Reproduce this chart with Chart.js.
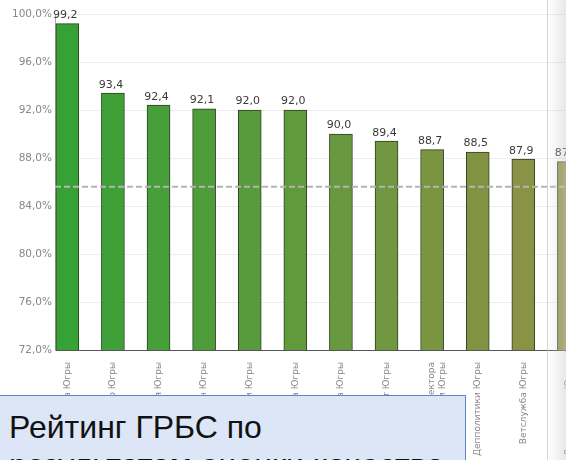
<!DOCTYPE html>
<html>
<head>
<meta charset="utf-8">
<script src="https://cdn.jsdelivr.net/npm/chart.js@4"></script>
<style>
  html, body { margin: 0; padding: 0; background: #fff; overflow: hidden; }
  #wrap { position: relative; width: 566px; height: 460px; overflow: hidden; }
  #box { position: absolute; left: 0; top: 0; width: 620px; height: 460px; }
  #shade { position: absolute; left: 547px; top: 0; width: 19px; height: 460px;
    border-left: 1px solid rgba(180,180,180,0.3);
    background: linear-gradient(to right, rgba(250,250,250,0.05), rgba(205,205,205,0.5)); }
  #note { position: absolute; left: -1px; top: 395px; width: 467px; height: 90px;
    background: #dce6f7; border: 1px solid #5a86c8; box-sizing: border-box;
    font-family: "Liberation Sans", Arial, sans-serif; font-size: 32px; line-height: 38px;
    color: #111; padding: 12px 0 0 9px; white-space: nowrap; }
</style>
</head>
<body>
<div id="wrap">
  <div id="box"><canvas id="ratingChart" width="620" height="460"></canvas></div>
  <div id="shade"></div>
  <div id="note">Рейтинг ГРБС по<br>результатам оценки качества</div>
</div>
<script>
const names = [
  "Дума Югры",
  "Губернатор Югры",
  "Избирательная комиссия Югры",
  "Депфин Югры",
  "Депэкономики Югры",
  "Счетная палата Югры",
  "Депспорта Югры",
  "Дептранспорт Югры",
  ["Депразвития аграрного сектора", "Депнедропользования и Югры"],
  "Депполитики Югры",
  "Ветслужба Югры",
  "Депкультуры Югры"
];
const scores = [99.2, 93.4, 92.4, 92.1, 92.0, 92.0, 90.0, 89.4, 88.7, 88.5, 87.9, 87.7];
const average = 85.6;
const yTicks = [72, 76, 80, 84, 88, 92, 96, 100];

const xMin = -0.27;
const xMax = 12.12;

// left colour -> right colour across the bars
function barColor(i, shade) {
  const t = i / (scores.length - 1);
  const from = shade ? [20, 126, 20] : [54, 162, 54];
  const to = shade ? [108, 106, 38] : [146, 144, 70];
  const c = from.map((v, k) => Math.round(v + (to[k] - v) * t));
  return "rgb(" + c.join(",") + ")";
}

const valueLabels = {
  id: "valueLabels",
  afterDatasetsDraw(chart) {
    const ctx = chart.ctx;
    const meta = chart.getDatasetMeta(0);
    ctx.save();
    ctx.font = "11px 'DejaVu Sans', Verdana, sans-serif";
    ctx.fillStyle = "#3a3a3a";
    ctx.textAlign = "center";
    ctx.textBaseline = "bottom";
    meta.data.forEach((bar, i) => {
      ctx.fillText(scores[i].toFixed(1).replace(".", ","), bar.x - 2, bar.y - 3);
    });
    ctx.restore();
  }
};

const ctx = document.getElementById("ratingChart").getContext("2d");
new Chart(ctx, {
  type: "bar",
  data: {
    datasets: [{
      type: "bar",
      data: scores.map((v, i) => ({ x: i, y: v })),
      backgroundColor: (c) => {
        const el = c.element;
        if (!el || !el.x) return barColor(c.dataIndex, false);
        const g = c.chart.ctx.createLinearGradient(el.x - 12, 0, el.x + 12, 0);
        g.addColorStop(0, barColor(c.dataIndex, false));
        g.addColorStop(1, barColor(c.dataIndex, true));
        return g;
      },
      borderColor: "#2f3f22",
      borderWidth: 1,
      barThickness: 23,
      order: 2
    }, {
      type: "line",
      data: [{ x: xMin, y: average }, { x: xMax, y: average }],
      borderColor: "#b4b4b4",
      borderWidth: 2,
      borderDash: [6, 3],
      pointRadius: 0,
      order: 1
    }]
  },
  options: {
    responsive: false,
    animation: false,
    layout: { padding: { top: 14, right: 0, left: 0, bottom: 0 } },
    plugins: { legend: { display: false }, tooltip: { enabled: false } },
    scales: {
      x: {
        type: "linear",
        min: xMin,
        max: xMax,
        offset: false,
        grid: { display: false },
        border: { color: "#555", width: 1 },
        afterFit: (s) => { s.height = 110; },
        afterBuildTicks: (s) => { s.ticks = names.map((n, i) => ({ value: i })); },
        ticks: {
          autoSkip: false,
          minRotation: 90,
          maxRotation: 90,
          color: "#888",
          padding: 4,
          font: { family: "'DejaVu Sans', Verdana, sans-serif", size: 9 },
          callback: (v) => names[v]
        }
      },
      y: {
        min: 72,
        max: 100,
        afterFit: (s) => { s.width = 55; },
        afterBuildTicks: (s) => { s.ticks = yTicks.map(v => ({ value: v })); },
        grid: { color: "#ececec", drawTicks: false },
        border: { color: "#aaa", width: 1 },
        ticks: {
          color: "#888",
          padding: 3,
          font: { family: "'DejaVu Sans', Verdana, sans-serif", size: 10.5 },
          callback: (v) => v.toFixed(1).replace(".", ",") + "%"
        }
      }
    }
  },
  plugins: [valueLabels]
});
</script>
</body>
</html>
